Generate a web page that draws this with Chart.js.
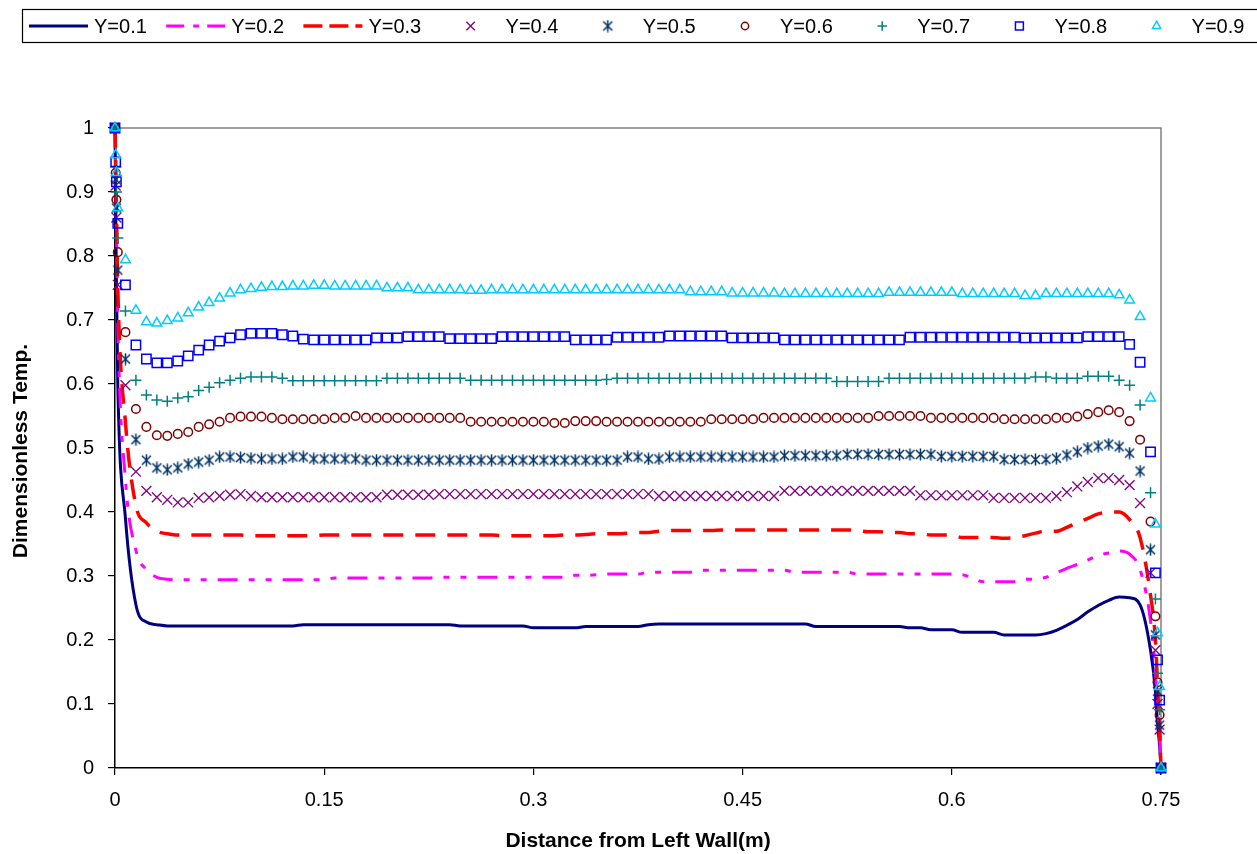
<!DOCTYPE html>
<html>
<head>
<meta charset="utf-8">
<script src="https://cdn.jsdelivr.net/npm/chart.js@4/dist/chart.umd.min.js"></script>
<style>
  html, body { margin: 0; padding: 0; background: #ffffff; }
  #c { display: block; }
</style>
</head>
<body>
<canvas id="c" width="1257" height="854" style="width:1257px;height:854px"></canvas>
<script>
// Distance from the left wall (m): wall-refined mesh points plus the uniform 0.0075 m grid
const distance = [
  0, 0.0005, 0.001, 0.002,
  0.0075, 0.015, 0.0225, 0.03, 0.0375, 0.045, 0.0525, 0.06, 0.0675, 0.075,
  0.0825, 0.09, 0.0975, 0.105, 0.1125, 0.12, 0.1275, 0.135, 0.1425, 0.15,
  0.1575, 0.165, 0.1725, 0.18, 0.1875, 0.195, 0.2025, 0.21, 0.2175, 0.225,
  0.2325, 0.24, 0.2475, 0.255, 0.2625, 0.27, 0.2775, 0.285, 0.2925, 0.3,
  0.3075, 0.315, 0.3225, 0.33, 0.3375, 0.345, 0.3525, 0.36, 0.3675, 0.375,
  0.3825, 0.39, 0.3975, 0.405, 0.4125, 0.42, 0.4275, 0.435, 0.4425, 0.45,
  0.4575, 0.465, 0.4725, 0.48, 0.4875, 0.495, 0.5025, 0.51, 0.5175, 0.525,
  0.5325, 0.54, 0.5475, 0.555, 0.5625, 0.57, 0.5775, 0.585, 0.5925, 0.6,
  0.6075, 0.615, 0.6225, 0.63, 0.6375, 0.645, 0.6525, 0.66, 0.6675, 0.675,
  0.6825, 0.69, 0.6975, 0.705, 0.7125, 0.72, 0.7275, 0.735, 0.7425,
  0.746, 0.7475, 0.749, 0.75
];

// Dimensionless temperature profiles at each height Y
const tempY01 = [
  1.0, 0.88, 0.76, 0.60,
  0.39, 0.255, 0.228, 0.224, 0.222, 0.222, 0.222, 0.222, 0.222, 0.222,
  0.222, 0.222, 0.222, 0.222, 0.222, 0.222, 0.222, 0.224, 0.224, 0.224,
  0.224, 0.224, 0.224, 0.224, 0.224, 0.224, 0.224, 0.224, 0.224, 0.224,
  0.224, 0.224, 0.222, 0.222, 0.222, 0.222, 0.222, 0.222, 0.222, 0.219,
  0.219, 0.219, 0.219, 0.219, 0.221, 0.221, 0.221, 0.221, 0.221, 0.221,
  0.224, 0.225, 0.225, 0.225, 0.225, 0.225, 0.225, 0.225, 0.225, 0.225,
  0.225, 0.225, 0.225, 0.225, 0.225, 0.225, 0.221, 0.221, 0.221, 0.221,
  0.221, 0.221, 0.221, 0.221, 0.221, 0.219, 0.219, 0.216, 0.216, 0.216,
  0.212, 0.212, 0.212, 0.212, 0.208, 0.208, 0.208, 0.208, 0.210, 0.215,
  0.223, 0.232, 0.244, 0.254, 0.262, 0.267, 0.266, 0.255, 0.184,
  0.12, 0.07, 0.035, 0
];
const tempY02 = [
  1.0, 0.94, 0.86, 0.70,
  0.45, 0.34, 0.31, 0.298, 0.295, 0.294, 0.294, 0.294, 0.294, 0.294,
  0.294, 0.294, 0.294, 0.294, 0.294, 0.294, 0.294, 0.294, 0.294, 0.294,
  0.297, 0.297, 0.297, 0.297, 0.297, 0.297, 0.297, 0.297, 0.297, 0.297,
  0.298, 0.298, 0.298, 0.298, 0.298, 0.298, 0.298, 0.298, 0.298, 0.298,
  0.298, 0.298, 0.298, 0.301, 0.301, 0.302, 0.303, 0.303, 0.303, 0.303,
  0.306, 0.306, 0.306, 0.306, 0.306, 0.309, 0.309, 0.309, 0.309, 0.309,
  0.309, 0.309, 0.309, 0.309, 0.306, 0.306, 0.306, 0.306, 0.306, 0.306,
  0.303, 0.303, 0.303, 0.303, 0.303, 0.303, 0.303, 0.303, 0.303, 0.303,
  0.302, 0.297, 0.291, 0.291, 0.291, 0.291, 0.295, 0.295, 0.298, 0.305,
  0.312, 0.318, 0.325, 0.332, 0.336, 0.339, 0.334, 0.310, 0.230,
  0.15, 0.10, 0.05, 0
];
const tempY03 = [
  1.0, 0.95, 0.88, 0.75,
  0.54, 0.41, 0.383, 0.37, 0.366, 0.364, 0.364, 0.364, 0.364, 0.364,
  0.364, 0.364, 0.363, 0.363, 0.363, 0.363, 0.363, 0.363, 0.363, 0.364,
  0.364, 0.364, 0.364, 0.364, 0.364, 0.364, 0.364, 0.364, 0.364, 0.364,
  0.364, 0.364, 0.364, 0.364, 0.364, 0.364, 0.363, 0.363, 0.363, 0.363,
  0.363, 0.363, 0.364, 0.364, 0.365, 0.366, 0.366, 0.366, 0.367, 0.368,
  0.368, 0.370, 0.371, 0.371, 0.371, 0.371, 0.371, 0.372, 0.372, 0.372,
  0.372, 0.372, 0.372, 0.372, 0.372, 0.372, 0.372, 0.372, 0.372, 0.372,
  0.371, 0.369, 0.369, 0.368, 0.368, 0.366, 0.366, 0.364, 0.364, 0.364,
  0.360, 0.360, 0.360, 0.360, 0.359, 0.360, 0.363, 0.367, 0.370, 0.370,
  0.376, 0.383, 0.390, 0.397, 0.400, 0.400, 0.388, 0.360, 0.270,
  0.20, 0.13, 0.06, 0
];
const tempY04 = [
  1.0, 0.91, 0.86, 0.755,
  0.598, 0.463, 0.433, 0.423, 0.419, 0.415, 0.415, 0.422, 0.423, 0.425,
  0.427, 0.428, 0.425, 0.423, 0.423, 0.423, 0.423, 0.423, 0.423, 0.423,
  0.423, 0.423, 0.423, 0.423, 0.423, 0.427, 0.427, 0.427, 0.427, 0.427,
  0.428, 0.428, 0.428, 0.428, 0.428, 0.428, 0.428, 0.428, 0.428, 0.428,
  0.428, 0.428, 0.428, 0.428, 0.428, 0.428, 0.428, 0.428, 0.428, 0.428,
  0.428, 0.425, 0.425, 0.425, 0.425, 0.425, 0.425, 0.425, 0.425, 0.425,
  0.425, 0.425, 0.425, 0.433, 0.433, 0.433, 0.433, 0.433, 0.433, 0.433,
  0.433, 0.433, 0.433, 0.433, 0.433, 0.433, 0.426, 0.426, 0.426, 0.426,
  0.426, 0.426, 0.426, 0.422, 0.422, 0.422, 0.422, 0.422, 0.422, 0.425,
  0.431, 0.440, 0.447, 0.453, 0.453, 0.450, 0.442, 0.414, 0.305,
  0.184, 0.10, 0.06, 0
];
const tempY05 = [
  1.0, 0.92, 0.875, 0.778,
  0.639, 0.513, 0.481, 0.469, 0.466, 0.469, 0.475, 0.478, 0.481, 0.486,
  0.486, 0.485, 0.484, 0.483, 0.483, 0.483, 0.486, 0.486, 0.483, 0.483,
  0.483, 0.483, 0.483, 0.481, 0.481, 0.481, 0.481, 0.481, 0.481, 0.481,
  0.481, 0.481, 0.481, 0.481, 0.481, 0.481, 0.481, 0.481, 0.481, 0.481,
  0.481, 0.481, 0.481, 0.481, 0.481, 0.481, 0.481, 0.481, 0.486, 0.486,
  0.483, 0.483, 0.486, 0.486, 0.486, 0.486, 0.486, 0.486, 0.486, 0.486,
  0.486, 0.486, 0.486, 0.488, 0.488, 0.488, 0.488, 0.488, 0.488, 0.490,
  0.490, 0.490, 0.490, 0.490, 0.490, 0.490, 0.490, 0.490, 0.487, 0.487,
  0.487, 0.487, 0.487, 0.487, 0.482, 0.482, 0.482, 0.482, 0.482, 0.484,
  0.489, 0.494, 0.500, 0.503, 0.506, 0.502, 0.492, 0.464, 0.341,
  0.208, 0.12, 0.067, 0
];
const tempY06 = [
  1.0, 0.93, 0.888, 0.806,
  0.681, 0.561, 0.533, 0.520, 0.519, 0.522, 0.525, 0.533, 0.537, 0.541,
  0.547, 0.549, 0.549, 0.549, 0.547, 0.545, 0.545, 0.545, 0.545, 0.545,
  0.547, 0.547, 0.550, 0.547, 0.547, 0.547, 0.547, 0.547, 0.547, 0.547,
  0.547, 0.547, 0.547, 0.541, 0.541, 0.541, 0.541, 0.541, 0.541, 0.541,
  0.541, 0.539, 0.539, 0.542, 0.542, 0.542, 0.541, 0.541, 0.541, 0.541,
  0.541, 0.541, 0.541, 0.541, 0.541, 0.541, 0.545, 0.545, 0.545, 0.545,
  0.545, 0.547, 0.547, 0.547, 0.547, 0.547, 0.547, 0.547, 0.547, 0.547,
  0.547, 0.547, 0.550, 0.550, 0.550, 0.550, 0.550, 0.547, 0.547, 0.547,
  0.547, 0.547, 0.547, 0.547, 0.545, 0.545, 0.545, 0.545, 0.545, 0.547,
  0.547, 0.549, 0.553, 0.556, 0.559, 0.556, 0.542, 0.513, 0.385,
  0.237, 0.134, 0.083, 0
];
const tempY07 = [
  1.0, 0.939, 0.90, 0.828,
  0.714, 0.606, 0.583, 0.575, 0.573, 0.578, 0.580, 0.590, 0.595, 0.602,
  0.606, 0.609, 0.611, 0.611, 0.611, 0.609, 0.605, 0.605, 0.605, 0.605,
  0.605, 0.605, 0.605, 0.605, 0.605, 0.609, 0.609, 0.609, 0.609, 0.609,
  0.609, 0.609, 0.609, 0.606, 0.606, 0.606, 0.606, 0.606, 0.606, 0.606,
  0.606, 0.606, 0.606, 0.606, 0.606, 0.606, 0.607, 0.609, 0.609, 0.609,
  0.609, 0.609, 0.609, 0.609, 0.609, 0.609, 0.609, 0.609, 0.609, 0.609,
  0.609, 0.609, 0.609, 0.609, 0.609, 0.609, 0.609, 0.609, 0.604, 0.604,
  0.604, 0.604, 0.604, 0.609, 0.609, 0.609, 0.609, 0.609, 0.609, 0.609,
  0.609, 0.609, 0.609, 0.609, 0.609, 0.609, 0.609, 0.611, 0.611, 0.609,
  0.609, 0.609, 0.612, 0.612, 0.612, 0.606, 0.598, 0.567, 0.430,
  0.264, 0.148, 0.091, 0
];
const tempY08 = [
  1.0, 0.947, 0.916, 0.851,
  0.755, 0.661, 0.639, 0.633, 0.633, 0.636, 0.644, 0.653, 0.661, 0.667,
  0.672, 0.677, 0.679, 0.679, 0.679, 0.677, 0.675, 0.670, 0.669, 0.669,
  0.669, 0.669, 0.669, 0.669, 0.672, 0.672, 0.672, 0.674, 0.674, 0.674,
  0.674, 0.671, 0.671, 0.671, 0.671, 0.671, 0.674, 0.674, 0.674, 0.674,
  0.674, 0.674, 0.674, 0.669, 0.669, 0.669, 0.669, 0.673, 0.673, 0.673,
  0.673, 0.673, 0.675, 0.675, 0.675, 0.675, 0.675, 0.675, 0.672, 0.672,
  0.672, 0.672, 0.672, 0.669, 0.669, 0.669, 0.669, 0.669, 0.669, 0.669,
  0.669, 0.669, 0.669, 0.669, 0.669, 0.673, 0.673, 0.673, 0.673, 0.673,
  0.673, 0.673, 0.673, 0.673, 0.673, 0.673, 0.672, 0.672, 0.672, 0.672,
  0.672, 0.672, 0.674, 0.674, 0.674, 0.674, 0.662, 0.634, 0.494,
  0.305, 0.169, 0.106, 0
];
const tempY09 = [
  1.0, 0.958, 0.93, 0.875,
  0.794, 0.715, 0.697, 0.695, 0.699, 0.703, 0.711, 0.720, 0.727, 0.734,
  0.742, 0.747, 0.749, 0.751, 0.752, 0.752, 0.753, 0.753, 0.754, 0.754,
  0.753, 0.753, 0.753, 0.753, 0.753, 0.750, 0.750, 0.750, 0.747, 0.747,
  0.747, 0.747, 0.747, 0.746, 0.746, 0.747, 0.747, 0.747, 0.747, 0.747,
  0.747, 0.747, 0.747, 0.747, 0.747, 0.747, 0.747, 0.747, 0.747, 0.747,
  0.747, 0.747, 0.747, 0.747, 0.744, 0.744, 0.744, 0.744, 0.742, 0.742,
  0.742, 0.742, 0.742, 0.741, 0.741, 0.741, 0.741, 0.741, 0.741, 0.741,
  0.741, 0.741, 0.741, 0.743, 0.743, 0.743, 0.743, 0.743, 0.743, 0.743,
  0.741, 0.741, 0.741, 0.741, 0.741, 0.741, 0.738, 0.738, 0.741, 0.741,
  0.741, 0.741, 0.741, 0.741, 0.741, 0.739, 0.731, 0.705, 0.578,
  0.381, 0.211, 0.127, 0
];

const seriesNames = ['Y=0.1', 'Y=0.2', 'Y=0.3', 'Y=0.4', 'Y=0.5', 'Y=0.6', 'Y=0.7', 'Y=0.8', 'Y=0.9'];
const xTickValues = [0, 0.15, 0.3, 0.45, 0.6, 0.75];
const xTickLabels = ['0', '0.15', '0.3', '0.45', '0.6', '0.75'];
const yTickValues = [0, 0.1, 0.2, 0.3, 0.4, 0.5, 0.6, 0.7, 0.8, 0.9, 1];
const yTickLabels = ['0', '0.1', '0.2', '0.3', '0.4', '0.5', '0.6', '0.7', '0.8', '0.9', '1'];
const xTitle = 'Distance from Left Wall(m)';
const yTitle = 'Dimensionless Temp.';

const FONT = '"Liberation Sans", Arial, Helvetica, sans-serif';

// Six-armed asterisk marker (x with a vertical stroke)
function asteriskMarker(color) {
  const s = 13;
  const cv = document.createElement('canvas');
  cv.width = s; cv.height = s;
  const g = cv.getContext('2d');
  g.strokeStyle = color;
  g.lineWidth = 1.5;
  g.beginPath();
  g.moveTo(2, 2); g.lineTo(s - 2, s - 2);
  g.moveTo(s - 2, 2); g.lineTo(2, s - 2);
  g.moveTo(s / 2, 0.5); g.lineTo(s / 2, s - 0.5);
  g.stroke();
  return cv;
}

const toPoints = (ys) => distance.map((x, i) => ({ x: x, y: ys[i] }));
const clear = 'rgba(0,0,0,0)';

const styles = [
  { data: tempY01, kind: 'line', color: '#000080', dash: [], legendDash: [], width: 3 },
  { data: tempY02, kind: 'line', color: '#FF00FF', dash: [20, 11, 6, 11, 6, 11], legendDash: [18, 9, 6, 8], width: 3 },
  { data: tempY03, kind: 'line', color: '#FF0000', dash: [20, 12], legendDash: [19, 7], width: 3.5 },
  { data: tempY04, kind: 'mark', color: '#800080', point: 'crossRot', radius: 7, bw: 1.3 },
  { data: tempY05, kind: 'mark', color: '#003366', point: asteriskMarker('#003366'), radius: 6, bw: 1.3 },
  { data: tempY06, kind: 'mark', color: '#800000', point: 'circle', radius: 4.3, bw: 1.5 },
  { data: tempY07, kind: 'mark', color: '#008080', point: 'cross', radius: 5.5, bw: 1.5 },
  { data: tempY08, kind: 'mark', color: '#0000FF', point: 'rect', radius: 6.6, bw: 1.5 },
  { data: tempY09, kind: 'mark', color: '#00CCFF', point: 'triangle', radius: 5.6, bw: 1.5 }
];

const datasets = styles.map((s, i) => {
  const base = {
    label: seriesNames[i],
    data: toPoints(s.data),
    order: styles.length - i,
    clip: false
  };
  if (s.kind === 'line') {
    return Object.assign(base, {
      showLine: true,
      borderColor: s.color,
      borderWidth: s.width,
      borderDash: s.dash,
      borderCapStyle: 'butt',
      cubicInterpolationMode: 'monotone',
      pointRadius: 0,
      pointHoverRadius: 0,
      fill: false
    });
  }
  return Object.assign(base, {
    showLine: false,
    borderColor: s.color,
    backgroundColor: clear,
    pointStyle: s.point,
    pointRadius: s.radius,
    pointHoverRadius: s.radius,
    pointBorderColor: s.color,
    pointBackgroundColor: clear,
    pointBorderWidth: s.bw
  });
});

// Plot frame: grey top and right edges of the plotting area
const frame = {
  id: 'frame',
  beforeDatasetsDraw(chart) {
    const { ctx, chartArea: a } = chart;
    ctx.save();
    ctx.strokeStyle = '#808080';
    ctx.lineWidth = 1.5;
    ctx.beginPath();
    ctx.moveTo(a.left, a.top);
    ctx.lineTo(a.right, a.top);
    ctx.lineTo(a.right, a.bottom);
    ctx.stroke();
    ctx.restore();
  }
};

// Axis titles and the boxed one-row legend across the top
const decorations = {
  id: 'decorations',
  afterDraw(chart) {
    const { ctx, chartArea: a } = chart;
    ctx.save();
    ctx.fillStyle = '#000';
    ctx.font = 'bold 21px ' + FONT;
    ctx.textAlign = 'center';
    ctx.textBaseline = 'middle';
    ctx.fillText(xTitle, 638, 841);
    ctx.translate(21, 451);
    ctx.rotate(-Math.PI / 2);
    ctx.fillText(yTitle, 0, 0);
    ctx.restore();

    // legend box
    ctx.save();
    ctx.strokeStyle = '#000';
    ctx.lineWidth = 1.2;
    ctx.strokeRect(22.5, 9.5, 1240, 33);
    const pitch = 137.2;
    const textX0 = 94;
    const cy = 26;
    ctx.font = '20px ' + FONT;
    ctx.textBaseline = 'middle';
    ctx.textAlign = 'left';
    datasets.forEach((ds, i) => {
      const s = styles[i];
      const tx = textX0 + pitch * i;
      ctx.save();
      if (s.kind === 'line') {
        ctx.strokeStyle = s.color;
        ctx.lineWidth = s.width;
        ctx.setLineDash(s.legendDash);
        ctx.beginPath();
        ctx.moveTo(tx - 65, cy);
        ctx.lineTo(tx - 6, cy);
        ctx.stroke();
      } else {
        ctx.strokeStyle = s.color;
        ctx.fillStyle = clear;
        ctx.lineWidth = s.bw;
        Chart.helpers.drawPoint(ctx, {
          pointStyle: s.point,
          radius: s.radius * 0.85,
          borderWidth: s.bw
        }, tx - 35, cy);
      }
      ctx.restore();
      ctx.fillStyle = '#000';
      ctx.fillText(ds.label, tx, cy + 1);
    });
    ctx.restore();
  }
};

const chart = new Chart(document.getElementById('c'), {
  type: 'scatter',
  data: { datasets: datasets },
  options: {
    responsive: false,
    animation: false,
    devicePixelRatio: 1,
    layout: { padding: { top: 128, right: 96, left: 0, bottom: 0 } },
    plugins: {
      legend: { display: false },
      tooltip: { enabled: false }
    },
    scales: {
      x: {
        type: 'linear',
        min: 0,
        max: 0.75,
        afterBuildTicks: (s) => { s.ticks = xTickValues.map(v => ({ value: v })); },
        afterFit: (s) => { s.height = 86; },
        ticks: {
          callback: (v, i) => xTickLabels[i],
          color: '#000',
          font: { family: FONT, size: 20 },
          padding: 13,
          maxRotation: 0,
          autoSkip: false
        },
        grid: { drawOnChartArea: false, drawTicks: true, tickLength: 7, color: '#000', lineWidth: 1.2 },
        border: { color: '#000', width: 1.5 }
      },
      y: {
        type: 'linear',
        min: 0,
        max: 1,
        afterBuildTicks: (s) => { s.ticks = yTickValues.map(v => ({ value: v })); },
        afterFit: (s) => { s.width = 115; },
        ticks: {
          callback: (v, i) => yTickLabels[i],
          color: '#000',
          font: { family: FONT, size: 20 },
          padding: 14,
          autoSkip: false
        },
        grid: { drawOnChartArea: false, drawTicks: true, tickLength: 7, color: '#000', lineWidth: 1.2 },
        border: { color: '#000', width: 1.5 }
      }
    }
  },
  plugins: [frame, decorations]
});
</script>
</body>
</html>
